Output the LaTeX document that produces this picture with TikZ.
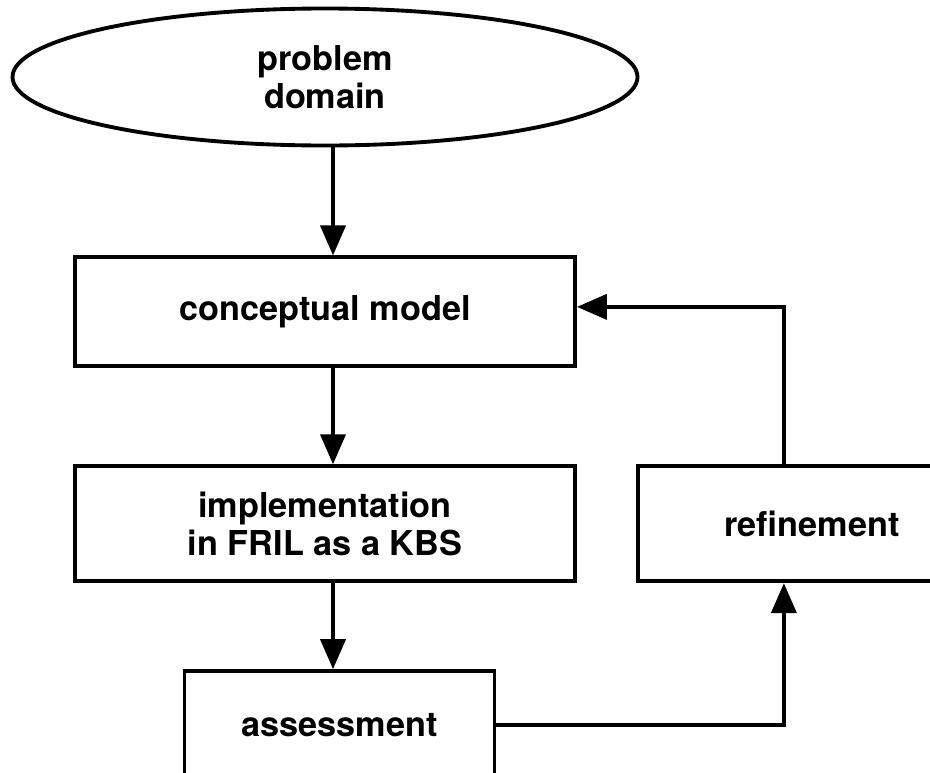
\documentclass[tikz,border=0pt]{standalone}
\usepackage{fontspec}
\setmainfont{TeX Gyre Heros}
\usetikzlibrary{shapes.geometric, arrows.meta, positioning}

\begin{document}
\begin{tikzpicture}[
    node distance=1.9cm and 1.2cm,
    every node/.style={font=\fontsize{19.5}{21.6}\selectfont\bfseries},
    box/.style={rectangle, draw, line width=2.2pt, minimum width=10cm, minimum height=2.18cm, align=center},
    domainshape/.style={ellipse, draw, line width=2.2pt, minimum width=12.5cm, minimum height=2.74cm, align=center},
    arrow/.style={-{Triangle[length=0.6cm, width=0.5cm]}, line width=2.2pt}
]

% Page frame
\useasboundingbox (0,0) rectangle (18.6,-15.44);
\clip (0,0) rectangle (18.6,-15.44);

% Problem domain
\node[domainshape] (domain) at (6.5,-1.54) {problem\\domain};

% Main chain
\node[box, below=2.16cm of domain] (concept) {conceptual model};
\node[box, below=1.92cm of concept, minimum height=2.3cm] (implement) {implementation\\in FRIL as a KBS};
\node[box, below=1.72cm of implement, xshift=0.29cm, minimum width=6.2cm, minimum height=2.16cm] (assess) {assessment};

% Feedback box
\node[box, right=1.18cm of implement, minimum width=6.96cm, minimum height=2.3cm] (refine) {refinement};

% Connections
\draw[arrow] ([xshift=1.6mm]domain.south) -- ([xshift=1.6mm]concept.north);
\draw[arrow] ([xshift=1.6mm]concept.south) -- ([xshift=1.6mm]implement.north);
\draw[arrow] ([xshift=1.6mm]implement.south) -- ([xshift=1.6mm]implement.south |- assess.north);

% Refinement loop
\draw[arrow] (assess.east) -| ([xshift=-5.6mm]refine.south);
\draw[arrow] ([xshift=-5.6mm]refine.north) |- ([yshift=1mm]concept.east);

\end{tikzpicture}
\end{document}
